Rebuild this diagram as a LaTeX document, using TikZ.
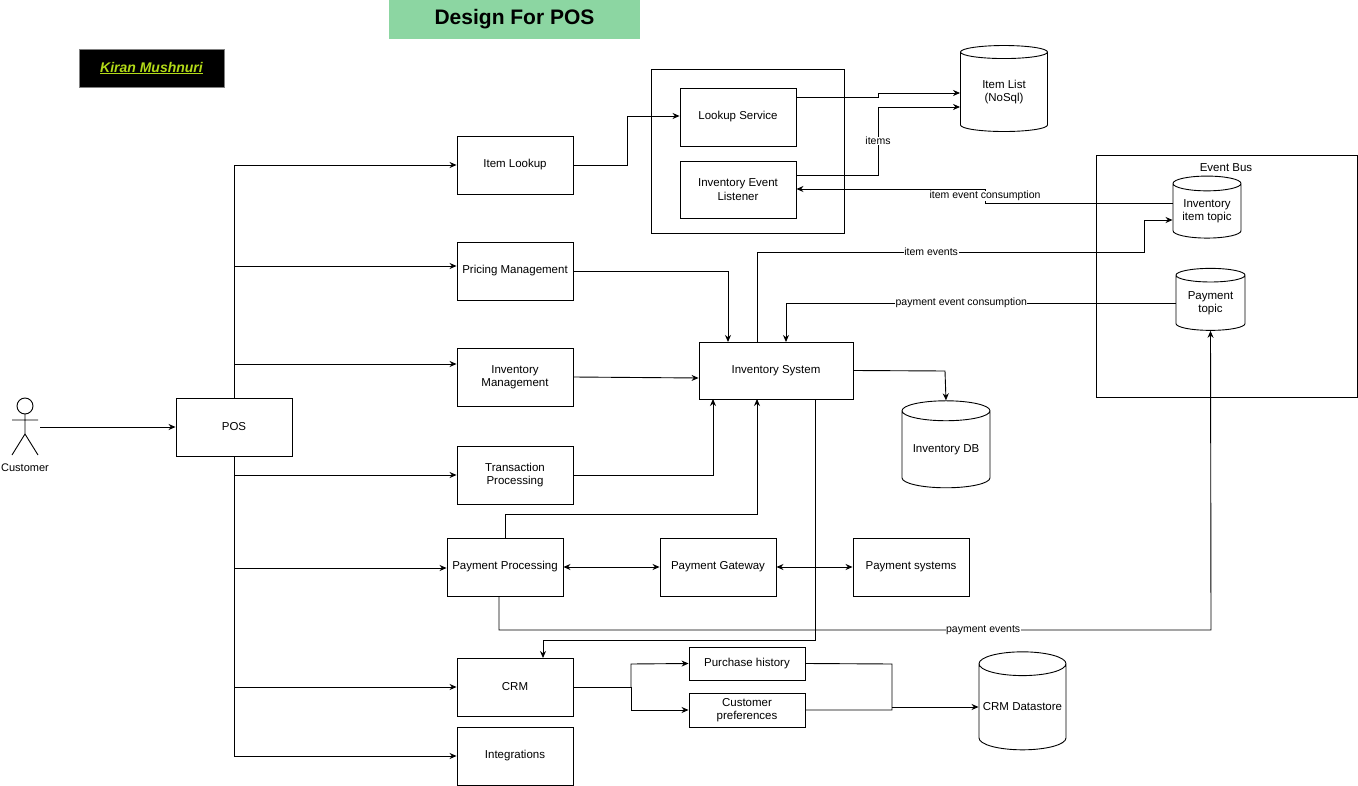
\documentclass[tikz,border=0pt]{standalone}
\usepackage{fontspec}
\setmainfont{Liberation Sans}
\usetikzlibrary{shapes.geometric,arrows.meta}
\begin{document}
\begin{tikzpicture}[x=1pt,y=-1pt,line width=0.9pt,
  font=\fontsize{11.5}{13.5}\selectfont,
  box/.style={draw,fill=white,align=center,inner sep=0pt},
  cyl/.style={draw,cylinder,shape border rotate=90,aspect=0.3,align=center,inner sep=0pt,fill=white},
  arr/.style={-{Stealth[length=7pt,width=6pt]}},
  darr/.style={{Stealth[length=7pt,width=6pt]}-{Stealth[length=7pt,width=6pt]}},
  lbl/.style={fill=white,inner sep=0.5pt,font=\fontsize{10.5}{12}\selectfont}]
\useasboundingbox (0,0) rectangle (1358,786);
\fill[white] (0,0) rectangle (1358,786);
% title
\node[fill=green!55!cyan!35!white,fill=cyan!10!green!45!white,minimum width=251,minimum height=39,inner sep=0pt,font=\fontsize{21}{24}\selectfont\bfseries] (title) at (514.5,19.5) {Design For POS};
\node[fill=black,draw=gray,minimum width=145,minimum height=38,inner sep=0pt,text=yellow!70!green,font=\fontsize{14}{16}\selectfont\bfseries\itshape] (author) at (151.5,68) {\underline{Kiran Mushnuri}};
% actor
\draw (25,406) circle (8);
\draw (25,414) -- (25,434) (12,420) -- (38,420) (12,455) -- (25,434) -- (38,455);
\node[font=\fontsize{11}{13}\selectfont] (cust) at (25,468) {Customer};
\coordinate (custR) at (40,427);
% boxes
\node[box,minimum width=116,minimum height=58] (pos) at (234,427) {POS};
\node[box,minimum width=116,minimum height=58] (il) at (515,165) {Item Lookup};
\node[box,minimum width=116,minimum height=58] (pm) at (515,271) {Pricing Management};
\node[box,minimum width=116,minimum height=58] (im) at (515,377) {Inventory\\Management};
\node[box,minimum width=116,minimum height=58] (tp) at (515,475) {Transaction\\Processing};
\node[box,minimum width=116,minimum height=58] (pp) at (505,567) {Payment Processing};
\node[box,minimum width=116,minimum height=58] (crm) at (515,687) {CRM};
\node[box,minimum width=116,minimum height=58] (int) at (515,756) {Integrations};
\node[draw,minimum width=193,minimum height=164,inner sep=0pt] (cont) at (747.5,151) {};
\node[box,minimum width=116,minimum height=58] (ls) at (738,117) {Lookup Service};
\node[box,minimum width=116,minimum height=57] (iel) at (738,189.5) {Inventory Event\\Listener};
\node[cyl,minimum width=87,minimum height=86] (itl) at (1004,92) {Item List\\(NoSql)};
\node[draw,minimum width=261,minimum height=242,inner sep=0pt] (bus) at (1226.5,276) {};
\node (bustitle) at (1226,168) {Event Bus};
\node[cyl,minimum width=68,minimum height=62] (iit) at (1207,211) {Inventory\\item topic};
\node[cyl,minimum width=69,minimum height=62] (pt) at (1210.5,303) {Payment\\topic};
\node[box,minimum width=154,minimum height=57] (is) at (776,370.5) {Inventory System};
\node[cyl,minimum width=88,minimum height=87] (idb) at (946,449.5) {Inventory DB};
\node[box,minimum width=116,minimum height=58] (pg) at (718,567) {Payment Gateway};
\node[box,minimum width=116,minimum height=58] (ps) at (911,567) {Payment systems};
\node[box,minimum width=116,minimum height=33] (ph) at (747,663.5) {Purchase history};
\node[box,minimum width=116,minimum height=34] (cp) at (747,710) {Customer\\preferences};
\node[cyl,minimum width=87,minimum height=98] (crmd) at (1022.5,707) {CRM Datastore};
% connectors
\draw[arr] (custR) -- (pos.west);
\draw (pos.north) -- (234,165);
\draw (pos.south) -- (234,756);
\draw[arr] (234,165) -- (il.west);
\draw[arr] (234,266) -- (pm.west |- 0,266);
\draw[arr] (234,364) -- (im.west |- 0,364);
\draw[arr] (234,475) -- (tp.west);
\draw[arr] (234,568) -- (pp.west |- 0,568);
\draw[arr] (234,687) -- (crm.west);
\draw[arr] (234,756) -- (int.west);
\draw[arr] (il.east) -- (627,165) -- (627,116) -- (ls.west |- 0,116);
\draw[arr] (ls.east |- 0,97) -- (878,97) -- (878,93) -- (itl.west |- 0,93);
\draw[arr] (iel.east |- 0,175) -- (878,175) -- node[lbl,pos=0.5]{items} (878,107) -- (itl.west |- 0,107);
\draw[arr] (iit.west |- 0,203) -- (985,203) -- (985,189) -- (iel.east |- 0,189);
\node[lbl] at (985,196) {item event consumption};
\draw[arr] (757,342) -- (757,252) -- node[lbl,pos=0.45]{item events} (1144,252) -- (1144,220) -- (iit.west |- 0,220);
\draw[arr] (pt.west |- 0,303) -- node[lbl,pos=0.55]{payment event consumption} (786,303) -- (786,342);
\draw[arr] (pm.east) -- (728,271) -- (728,342);
\draw[arr] (im.east) -- (is.west |- 0,378);
\draw[arr] (tp.east) -- (713,475) -- (713,399);
\draw[arr] (505,538) -- (505,514) -- (757,514) -- (757,399);
\draw[arr] (is.east) -- (945,371) -- (idb.north);
\draw[arr] (815,399) -- (815,640) -- (543,640) -- (543,658);
\draw[arr] (499,596) -- (499,630) -- node[lbl,pos=0.68]{payment events} (1211,630) -- (pt.south);
\draw[darr] (pp.east) -- (pg.west);
\draw[darr] (pg.east) -- (ps.west);
\draw (crm.east) -- (631,687);
\draw[arr] (631,687) -- (631,664) -- (ph.west);
\draw[arr] (631,687) -- (631,710) -- (cp.west);
\draw (ph.east) -- (892,664) -- (892,710) -- (cp.east);
\draw[arr] (892,707) -- (crmd.west |- 0,707);
\end{tikzpicture}
\end{document}
